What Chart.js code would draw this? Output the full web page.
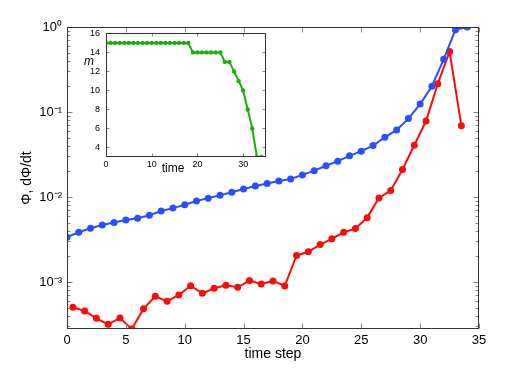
<!DOCTYPE html>
<html>
<head>
<meta charset="utf-8">
<script src="https://cdn.jsdelivr.net/npm/chart.js@4.4.1/dist/chart.umd.min.js"></script>
<style>
  html, body { margin: 0; padding: 0; background: #fff; }
  #wrap { position: relative; width: 531px; height: 372px; }
  #mainChart { position: absolute; left: 0; top: 0; }
  #insetChart { position: absolute; left: 76px; top: 22px; }
</style>
</head>
<body>
<div id="wrap">
  <canvas id="mainChart" width="531" height="372"></canvas>
  <canvas id="insetChart" width="196" height="156"></canvas>
</div>
<script>
// Phi at integer time steps
const phiSteps = [0, 1, 2, 3, 4, 5, 6, 7, 8, 9, 10, 11, 12, 13, 14, 15, 16, 17,
    18, 19, 20, 21, 22, 23, 24, 25, 26, 27, 28, 29, 30, 31, 32, 33, 34];
const phiValues = [3.37e-3, 3.85e-3, 4.29e-3, 4.69e-3, 5.0e-3, 5.37e-3, 5.62e-3,
    6.1e-3, 6.84e-3, 7.4e-3, 8.1e-3, 8.97e-3, 9.7e-3, 1.05e-2, 1.14e-2, 1.24e-2,
    1.35e-2, 1.44e-2, 1.54e-2, 1.63e-2, 1.82e-2, 2.04e-2, 2.33e-2, 2.64e-2,
    3.05e-2, 3.46e-2, 4.03e-2, 5.04e-2, 6.15e-2, 8.36e-2, 0.124, 0.201, 0.417,
    0.93, 1.0];

// dPhi/dt at half steps
const dphiSteps = [0.5, 1.5, 2.5, 3.5, 4.5, 5.5, 6.5, 7.5, 8.5, 9.5, 10.5, 11.5,
    12.5, 13.5, 14.5, 15.5, 16.5, 17.5, 18.5, 19.5, 20.5, 21.5, 22.5, 23.5, 24.5,
    25.5, 26.5, 27.5, 28.5, 29.5, 30.5, 31.5, 32.5, 33.5];
const dphiValues = [5.04e-4, 4.57e-4, 3.74e-4, 3.18e-4, 3.78e-4, 2.8e-4, 4.83e-4,
    6.79e-4, 5.93e-4, 7.05e-4, 9.06e-4, 7.36e-4, 8.43e-4, 9.14e-4, 8.66e-4,
    1.04e-3, 9.48e-4, 1.03e-3, 9.0e-4, 2.05e-3, 2.27e-3, 2.76e-3, 3.22e-3,
    3.85e-3, 4.25e-3, 5.72e-3, 9.73e-3, 1.19e-2, 2.11e-2, 4.06e-2, 7.83e-2,
    0.215, 0.514, 0.069];

// inset: m vs time
const mSteps = phiSteps;
const mValues = [15, 15, 15, 15, 15, 15, 15, 15, 15, 15, 15, 15, 15, 15, 15, 15,
    15, 15, 15, 14, 14, 14, 14, 14, 14, 14, 13, 13, 12, 11, 10, 8, 6, 3, 3];

const FONT = "'Liberation Sans', Arial, sans-serif";
const SUP = { '0': '\u2070', '1': '\u00b9', '2': '\u00b2', '3': '\u00b3', '-': '\u207b' };

const pairs = (xs, ys) => xs.map((x, i) => ({ x: x, y: ys[i] }));

/* inward ticks on all four sides + box frame */
const frameTicks = {
    id: 'frameTicks',
    beforeDraw(chart, args, opts) {
        if (!opts.fill) return;
        const a = chart.chartArea;
        chart.ctx.save();
        chart.ctx.fillStyle = opts.fill;
        chart.ctx.fillRect(a.left, a.top, a.right - a.left, a.bottom - a.top);
        chart.ctx.restore();
    },
    afterDraw(chart, args, opts) {
        const { ctx, chartArea: a, scales } = chart;
        const xs = scales.x, ys = scales.y;
        const L = Math.round(a.left) + 0.5, R = Math.round(a.right) - 0.5;
        const T = Math.round(a.top) + 0.5, B = Math.round(a.bottom) - 0.5;
        ctx.save();
        ctx.lineWidth = 1;
        ctx.strokeStyle = opts.tickColor || '#777';
        ctx.beginPath();
        xs.ticks.forEach(t => {
            const px = Math.round(xs.getPixelForValue(t.value)) + 0.5;
            ctx.moveTo(px, B); ctx.lineTo(px, B - opts.len);
            ctx.moveTo(px, T); ctx.lineTo(px, T + opts.len);
        });
        let yList = [];
        if (ys.type === 'logarithmic') {
            const lo = Math.floor(Math.log10(ys.min)), hi = Math.ceil(Math.log10(ys.max));
            for (let e = lo; e <= hi; e++) {
                for (let k = 1; k < 10; k++) {
                    const v = k * Math.pow(10, e);
                    if (v >= ys.min * 0.9999 && v <= ys.max * 1.0001) yList.push([v, k === 1]);
                }
            }
        } else {
            yList = ys.ticks.map(t => [t.value, true]);
        }
        yList.forEach(([v, major]) => {
            const py = Math.round(ys.getPixelForValue(v)) + 0.5;
            const len = major ? opts.len : opts.minorLen;
            ctx.moveTo(L, py); ctx.lineTo(L + len, py);
            ctx.moveTo(R, py); ctx.lineTo(R - len, py);
        });
        ctx.stroke();
        ctx.strokeStyle = opts.frameColor || '#333';
        ctx.strokeRect(L, T, R - L, B - T);
        ctx.restore();
    }
};

/* free text labels of the inset */
const insetLabels = {
    id: 'insetLabels',
    afterDraw(chart) {
        const ctx = chart.ctx;
        ctx.save();
        ctx.fillStyle = '#000';
        ctx.textAlign = 'center';
        ctx.textBaseline = 'middle';
        ctx.font = '12px ' + FONT;
        ctx.fillText('time', 97, 147);
        ctx.font = 'italic 12px ' + FONT;
        ctx.fillText('m', 13, 40);
        ctx.restore();
    }
};

/* ================= MAIN CHART ================= */
new Chart(document.getElementById('mainChart'), {
    type: 'line',
    data: {
        datasets: [{
            label: '\u03a6',
            data: pairs(phiSteps, phiValues),
            borderColor: '#2a4dff',
            backgroundColor: '#2a4dff',
            borderWidth: 2,
            pointRadius: 3.5,
            pointBorderWidth: 0,
            tension: 0
        }, {
            label: 'd\u03a6/dt',
            data: pairs(dphiSteps, dphiValues),
            borderColor: '#ff0a0a',
            backgroundColor: '#ff0a0a',
            borderWidth: 2,
            pointRadius: 3.5,
            pointBorderWidth: 0,
            tension: 0
        }]
    },
    options: {
        responsive: false,
        animation: false,
        layout: { padding: { left: 19, right: 52, top: 27, bottom: 9 } },
        plugins: {
            legend: { display: false },
            tooltip: { enabled: false },
            frameTicks: { len: 5, minorLen: 3, tickColor: '#888', frameColor: '#333' }
        },
        scales: {
            x: {
                type: 'linear',
                min: 0,
                max: 35,
                grid: { display: false, drawTicks: false },
                border: { display: false },
                ticks: { stepSize: 5, padding: 4, color: '#000', maxRotation: 0, font: { family: FONT, size: 13 } },
                title: { display: true, text: 'time step', color: '#000', padding: 0, font: { family: FONT, size: 14 } },
                afterFit: s => { s.height = 34; }
            },
            y: {
                type: 'logarithmic',
                min: 2.8e-4,
                max: 1,
                grid: { display: false, drawTicks: false },
                border: { display: false },
                ticks: {
                    autoSkip: false,
                    padding: 5,
                    color: '#000',
                    font: { family: FONT, size: 13 },
                    callback: v => {
                        const e = Math.log10(v), r = Math.round(e);
                        if (Math.abs(e - r) > 1e-6) return '';
                        return '10' + String(r).split('').map(c => SUP[c]).join('');
                    }
                },
                title: { display: true, text: '\u03a6, d\u03a6/dt', color: '#000', padding: 0, font: { family: FONT, size: 14 } },
                afterFit: s => { s.width = 48; }
            }
        }
    },
    plugins: [frameTicks]
});

/* ================= INSET ================= */
new Chart(document.getElementById('insetChart'), {
    type: 'line',
    data: {
        datasets: [{
            label: 'm',
            data: pairs(mSteps, mValues),
            borderColor: '#22aa11',
            backgroundColor: '#22aa11',
            borderWidth: 2,
            pointRadius: 2.2,
            pointBorderWidth: 0,
            tension: 0
        }]
    },
    options: {
        responsive: false,
        animation: false,
        layout: { padding: { left: 0, right: 6, top: 2, bottom: 0 } },
        plugins: {
            legend: { display: false },
            tooltip: { enabled: false },
            frameTicks: { len: 3, minorLen: 3, tickColor: '#888', frameColor: '#333', fill: '#fff' }
        },
        scales: {
            x: {
                type: 'linear',
                min: 0,
                max: 35,
                grid: { display: false, drawTicks: false },
                border: { display: false },
                afterBuildTicks: s => { s.ticks = s.ticks.filter(t => t.value % 10 === 0); },
                ticks: { stepSize: 10, padding: 2, color: '#000', maxRotation: 0, font: { family: FONT, size: 9 } },
                afterFit: s => { s.height = 21; }
            },
            y: {
                type: 'linear',
                min: 3,
                max: 16,
                grid: { display: false, drawTicks: false },
                border: { display: false },
                afterBuildTicks: s => { s.ticks = s.ticks.filter(t => t.value % 2 === 0); },
                ticks: { stepSize: 2, padding: 6, color: '#000', font: { family: FONT, size: 9 } },
                afterFit: s => { s.width = 30; }
            }
        }
    },
    plugins: [frameTicks, insetLabels]
});
</script>
</body>
</html>
